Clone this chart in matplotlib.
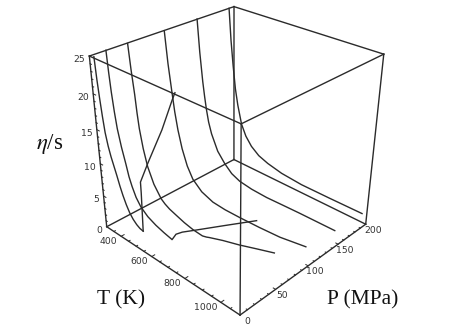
import numpy as np
import matplotlib
matplotlib.use('Agg')
import matplotlib.pyplot as plt

plt.rcParams['mathtext.fontset'] = 'stix'

T_LIM = (300, 1100)
P_LIM = (0, 200)
ETA_LIM = (0, 25)

# isobars, eta/s against T
P1 = 2
T1 = [318, 323, 329, 336, 344, 356, 369, 383, 397, 412, 427, 445, 464, 484, 505, 525, 545]
ETA1 = [25, 22, 19.6, 17.2, 15, 13.2, 11.8, 10.6, 9.4, 8, 6.8, 5.6, 4.6, 3.9, 3.4, 3.1, 3.0]
P2 = 20
T2 = [299, 304, 310, 319, 329, 347, 368, 382, 398, 420, 448, 490, 540, 590, 639]
ETA2 = [25, 22.1, 19.5, 16.8, 14.5, 12, 9.7, 8, 6.7, 5.3, 4.2, 3.3, 2.7, 2.3, 2.0]
P3 = 46
T3 = [304, 314, 326, 333, 341, 358, 380, 415, 458, 482, 510, 555, 602, 655, 711, 735, 752, 830, 921, 1010, 1101]
ETA3 = [25, 21.5, 18.2, 15.6, 13.4, 10.6, 8.1, 5.8, 4.1, 3.6, 3.2, 2.8, 2.4, 2.1, 2.0, 2.2, 2.4, 3.2, 4.0, 4.9, 5.8]
P4 = 95
T4 = [302, 316, 332, 346, 362, 385, 415, 449, 505, 575, 650, 739, 850, 964, 1098]
ETA4 = [25, 20.5, 16.8, 13.7, 11.1, 8.4, 6.0, 4.3, 3.0, 2.3, 2.15, 2.2, 2.35, 2.6, 3.3]
P5 = 143
T5 = [298, 310, 325, 335, 345, 358, 376, 415, 460, 505, 556, 630, 721, 810, 910, 1097]
ETA5 = [25, 20.3, 16, 13.8, 11.9, 10, 8.3, 5.9, 4.4, 3.3, 2.7, 2.4, 2.3, 2.4, 2.5, 2.6]
P6 = 192
T6 = [300, 312, 325, 340, 356, 381, 410, 447, 495, 553, 640, 760, 920, 1096]
ETA6 = [25, 20.3, 16.6, 13, 10.5, 7.6, 5.9, 4.6, 3.6, 3.0, 2.45, 2.15, 2.15, 2.2]

# the two lines that run across the isobars
CROSS1_T = 545
CROSS1_P = [2, 3, 3, 14, 34, 49, 53]
CROSS1_ETA = [3.02, 8.79, 10.37, 12.55, 16.18, 19.6, 20.42]
CROSS2_T = [638, 624, 632, 659, 726, 799]
CROSS2_P = [21, 29, 36, 47, 75, 105]
CROSS2_ETA = [2.0, 2.0, 2.0, 2.0, 2.0, 2.0]

T_TICKS = [400, 600, 800, 1000]
P_TICKS = [0, 50, 100, 150, 200]
ETA_TICKS = [0, 5, 10, 15, 20, 25]

# where the corners of the box sit on the page, used to fit the perspective
corners = [((300,0,0),(106.7,226.7)), ((1100,0,0),(240,315)), ((1100,200,0),(365.7,224.3)), ((300,200,0),(234,159.5)),
           ((300,0,25),(89.3,56)), ((300,200,25),(234,6.7)), ((1100,200,25),(383.7,54)), ((1100,0,25),(241.3,124))]
A = []
b = []
for (X, Y, Z), (u, v) in corners:
    A.append([X,Y,Z,1,0,0,0,0,-u*X,-u*Y,-u*Z]); b.append(u)
    A.append([0,0,0,0,X,Y,Z,1,-v*X,-v*Y,-v*Z]); b.append(v)
s = np.array([1000,200,25,1]*2 + [1000,200,25.])
m = np.linalg.lstsq(np.array(A, float)/s, np.array(b, float), rcond=None)[0]/s
M = np.append(m, 1).reshape(3, 4)

def proj(T, P, eta):
    T, P, eta = np.broadcast_arrays(np.asarray(T, float), np.asarray(P, float), np.asarray(eta, float))
    q = M @ np.array([T, P, eta, np.ones_like(T)])
    return q[0]/q[2], q[1]/q[2]

fig = plt.figure(figsize=(4.68, 3.31), dpi=100)
ax = fig.add_axes([0, 0, 1, 1])
ax.set_xlim(0, 468)
ax.set_ylim(331, 0)
ax.axis('off')

INK = '#2b2b2b'
LW = 1.0

def draw(T, P, eta, lw=LW):
    x, y = proj(T, P, eta)
    ax.plot(x, y, color=INK, lw=lw, solid_joinstyle='round')

# box
for p in P_LIM:
    for e in ETA_LIM:
        draw(T_LIM, p, e)
for t in T_LIM:
    for e in ETA_LIM:
        draw(t, P_LIM, e)
for t in T_LIM:
    for p in P_LIM:
        draw(t, p, ETA_LIM)

# ticks
for t in range(350, 1100, 50):
    draw([t, t], [0, 4 if t in T_TICKS else 2], 0, lw=0.7)
for p in range(10, 200, 10):
    draw([1100, 1100-(12 if p % 50 == 0 else 6)], p, 0, lw=0.7)
for e in range(1, 25):
    draw([300, 300+(16 if e % 5 == 0 else 8)], 0, e, lw=0.7)

# curves
draw(T1, P1, ETA1)
draw(T2, P2, ETA2)
draw(T3, P3, ETA3)
draw(T4, P4, ETA4)
draw(T5, P5, ETA5)
draw(T6, P6, ETA6)
draw(CROSS1_T, CROSS1_P, CROSS1_ETA)
draw(CROSS2_T, CROSS2_P, CROSS2_ETA)

# tick labels
tick_style = dict(fontsize=6.7, color='#333333', va='center')
for t in T_TICKS:
    x, y = proj(t, 0, 0)
    ax.text(x-3.5, y+5, str(t), ha='right', **tick_style)
for p in P_TICKS:
    x, y = proj(1100, p, 0)
    ax.text(x+7, y+6, str(p), ha='center', **tick_style)
for e in ETA_TICKS:
    x, y = proj(300, 0, e)
    ax.text(x-4.5, y+3.5, str(e), ha='right', **tick_style)

ax.text(120.7, 300, 'T (K)', family='Liberation Serif', fontsize=15.5, color='#111111', ha='center', va='center')
ax.text(363, 300, 'P (MPa)', family='Liberation Serif', fontsize=15.5, color='#111111', ha='center', va='center')
ax.text(50, 144, r'$\eta$/s', family='Liberation Serif', fontsize=16.5, color='#111111', ha='center', va='center')

fig.savefig('out.png', dpi=100)
